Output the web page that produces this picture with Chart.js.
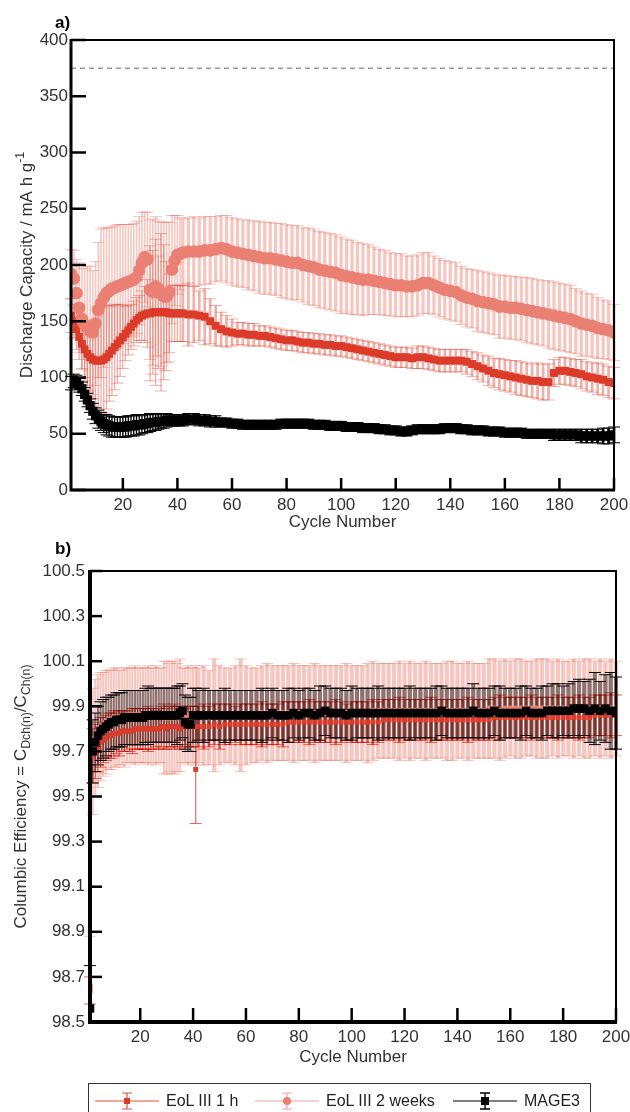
<!DOCTYPE html>
<html>
<head>
<meta charset="utf-8">
<script src="https://cdn.jsdelivr.net/npm/chart.js@4.4.1/dist/chart.umd.min.js"></script>
<style>
  body { margin: 0; background: #fff; width: 630px; height: 1112px; position: relative; overflow: hidden;
         font-family: "Liberation Sans", Arial, sans-serif; }
  canvas { position: absolute; left: 0; }
  #chartA { top: 0; }
  #chartB { top: 535px; }
  #legend { position: absolute; left: 88px; top: 1083px; width: 503px; height: 34px;
            border: 1.5px solid #333; box-sizing: border-box; }
  .item { position: absolute; top: 2px; height: 30px; display: flex; align-items: center;
          font-size: 16px; color: #222; white-space: nowrap; }
  .item svg { margin-right: 7px; }
</style>
</head>
<body>
<canvas id="chartA" width="630" height="540"></canvas>
<canvas id="chartB" width="630" height="540"></canvas>
<div id="legend">
  <div class="item" style="left:6px">
    <svg width="64" height="22"><line x1="0" y1="11" x2="64" y2="11" stroke="#e0503f" stroke-width="1.2"/>
      <path d="M32 3V19M27 3H37M27 19H37" stroke="#e0503f" stroke-width="1.2" fill="none"/>
      <rect x="29" y="8" width="6" height="6" fill="#dc3b2a"/></svg>EoL III 1 h</div>
  <div class="item" style="left:166px">
    <svg width="64" height="22"><line x1="0" y1="11" x2="64" y2="11" stroke="#f0a49a" stroke-width="1.2"/>
      <path d="M32 3V19M27 3H37M27 19H37" stroke="#f0a49a" stroke-width="1.2" fill="none"/>
      <circle cx="32" cy="11" r="4" fill="#ea8073"/></svg>EoL III 2 weeks</div>
  <div class="item" style="left:364px">
    <svg width="64" height="22"><line x1="0" y1="11" x2="64" y2="11" stroke="#000" stroke-width="1.2"/>
      <path d="M32 3V19M27 3H37M27 19H37" stroke="#000" stroke-width="1.4" fill="none"/>
      <rect x="28" y="7" width="8" height="8" fill="#000"/></svg>MAGE3</div>
</div>
<script>
// cycle numbers (every cycle up to 41, then every second cycle)
const cycles = [1,2,3,4,5,6,7,8,9,10,11,12,13,14,15,16,17,18,19,20,21,22,23,24,25,26,27,28,29,30,31,32,33,34,35,36,37,38,39,40,41,
  42,44,46,48,50,52,54,56,58,60,62,64,66,68,70,72,74,76,78,80,82,84,86,88,90,92,94,96,98,100,
  102,104,106,108,110,112,114,116,118,120,122,124,126,128,130,132,134,136,138,140,
  142,144,146,148,150,152,154,156,158,160,162,164,166,168,170,172,174,176,178,180,
  182,184,186,188,190,192,194,196,198,200];

const xTicks = [20,40,60,80,100,120,140,160,180,200];
const yTicksA = [0,50,100,150,200,250,300,350,400];
const yTicksB = [98.5,98.7,98.9,99.1,99.3,99.5,99.7,99.9,100.1,100.3,100.5];
const refCapacity = 375;

// a) discharge capacity, mA h g-1
const cap1h = [155,150,143,136,130,125,121,118,116,115, 115,115,116,118,121,124,127,130,133,136,
  139,142,145,148,151,153,155,156,157,157, 158,158,158,158,158,158,157,157,157,157,157,
  157,156,156,155,154,150,146,143,141,140, 139,139,138,138,137,137,136,135,134,133,
  133,132,131,131,130,130,129,129,128,128, 127,126,125,124,123,122,121,120,119,118,
  118,118,117,118,118,117,116,115,115,115, 115,115,114,112,110,108,106,104,103,102,
  101,100,99,98,97,97,96,96,104,106, 106,105,104,103,101,100,99,98,96,95];
const err1h = [15,15,18,20,22,25,28,30,35,45, 48,50,48,46,42,40,38,35,32,28,
  24,22,20,20,20,20,22,25,30,60, 55,65,50,70,60,45,35,25,25,25,25,
  25,28,25,22,25,20,18,15,14,12, 10,10,10,10,9,9,9,9,9,9,
  9,9,9,9,9,9,9,9,9,9, 9,9,9,9,9,9,9,9,9,9,
  9,9,9,10,10,10,10,10,10,10, 10,10,11,11,12,12,13,13,14,14,
  14,15,15,15,15,16,16,16,12,12, 12,12,12,13,13,13,14,14,14,14];

const cap2w = [192,188,175,162,152,147,144,141,140,148, 160,166,171,175,177,179,180,181,182,183,
  184,185,186,187,189,195,202,207,205,178, 176,181,179,174,172,172,176,196,204,209,210,
  211,212,212,212,213,213,214,215,214,212, 211,210,209,208,207,206,206,205,204,203,
  202,202,200,199,198,196,195,194,193,191, 190,189,188,187,187,186,185,184,183,182,
  182,181,181,182,184,184,182,180,178,177, 176,173,171,170,168,167,166,165,163,163,
  162,162,161,160,159,158,157,156,155,154, 153,152,150,148,147,146,144,143,142,140];
const err2w = [22,25,30,40,45,50,55,58,55,55, 60,66,62,58,56,55,55,55,54,53,
  52,51,50,50,50,48,45,40,42,62, 65,62,60,64,66,66,62,48,40,35,32,
  30,30,31,30,30,30,29,29,30,30, 30,30,31,31,32,32,32,32,33,33,
  33,33,33,34,34,34,34,34,34,34, 33,33,32,32,31,30,29,29,28,28,
  28,27,27,27,27,27,26,26,26,26, 26,26,26,26,27,27,27,27,28,28,
  28,28,28,29,29,29,29,30,30,30, 30,30,29,29,28,28,27,26,26,25];

const capMage = [95,97,96,93,90,85,80,75,70,66, 63,61,59,58,57,56,56,56,56,56,
  56,57,57,57,58,58,58,59,59,60, 60,60,61,61,61,62,62,62,62,62,62,
  62,63,63,62,62,61,61,60,60,59, 59,58,58,58,58,58,58,58,59,59,
  59,59,59,59,58,58,58,57,57,57, 56,56,56,55,55,55,54,54,53,53,
  52,52,53,54,54,54,54,54,55,55, 55,54,54,53,53,53,52,52,52,51,
  51,51,51,50,50,50,50,50,49,49, 49,49,49,48,48,48,48,48,48,49];
const errMage = [6,6,6,6,6,6,6,6,7,7, 8,8,8,9,9,9,9,9,9,9,
  9,9,9,9,9,9,8,8,8,8, 7,7,7,6,6,6,5,5,5,5,5,
  5,5,5,5,5,5,5,4,4,4, 4,4,4,4,4,4,4,4,4,4,
  4,4,4,4,4,4,4,4,4,4, 4,4,4,4,4,4,4,4,4,4,
  4,4,4,4,4,4,4,4,4,4, 4,4,4,4,4,4,4,4,4,4,
  4,4,4,4,4,4,4,4,5,5, 5,5,5,6,6,6,6,7,7,7];

// b) columbic efficiency, %
const ce1h = [98.64,99.68,99.70,99.72,99.74,99.75,99.76,99.77,99.77,99.78,
  99.78,99.78,99.79,99.79,99.79,99.79,99.79,99.80,99.80,99.80,
  99.80,99.80,99.80,99.80,99.80,99.80,99.80,99.81,99.81,99.80,
  99.81,99.81,99.81,99.81,99.80,99.81,99.81,99.81,99.81,99.81,99.62,
  99.81,99.81,99.81,99.82,99.81,99.82,99.82,99.82,99.82,99.82,
  99.82,99.82,99.82,99.82,99.82,99.82,99.82,99.83,99.83,99.83,
  99.83,99.83,99.83,99.83,99.83,99.83,99.83,99.83,99.83,99.83,
  99.83,99.83,99.83,99.83,99.83,99.84,99.84,99.84,99.84,99.84,
  99.84,99.84,99.84,99.84,99.84,99.84,99.84,99.84,99.84,99.84,
  99.84,99.84,99.84,99.84,99.84,99.84,99.85,99.85,99.85,99.85,
  99.85,99.85,99.85,99.85,99.85,99.85,99.85,99.85,99.85,99.85,
  99.85,99.85,99.85,99.85,99.85,99.86,99.86,99.86,99.86,99.86];
const errCe1h = [0.06,0.12,0.12,0.11,0.11,0.10,0.10,0.10,0.10,0.10,
  0.09,0.10,0.09,0.09,0.08,0.09,0.10,0.09,0.09,0.09,
  0.09,0.09,0.10,0.09,0.09,0.08,0.09,0.09,0.10,0.09,
  0.09,0.09,0.10,0.09,0.09,0.09,0.08,0.09,0.09,0.09,0.24,
  0.09,0.10,0.09,0.09,0.10,0.09,0.09,0.08,0.09,0.09,
  0.09,0.09,0.10,0.09,0.09,0.09,0.10,0.09,0.09,0.09,
  0.09,0.10,0.09,0.09,0.09,0.09,0.10,0.09,0.08,0.09,
  0.09,0.09,0.09,0.10,0.09,0.09,0.09,0.09,0.10,0.09,
  0.09,0.09,0.09,0.09,0.10,0.09,0.09,0.09,0.09,0.09,
  0.09,0.10,0.09,0.09,0.09,0.09,0.09,0.10,0.09,0.09,
  0.09,0.09,0.09,0.10,0.09,0.09,0.09,0.09,0.10,0.09,
  0.09,0.09,0.10,0.09,0.09,0.09,0.09,0.09,0.10,0.09];

const ce2w = [98.66,99.70,99.76,99.79,99.81,99.82,99.83,99.84,99.84,99.85,
  99.85,99.85,99.85,99.85,99.86,99.86,99.86,99.86,99.86,99.86,
  99.86,99.86,99.86,99.86,99.86,99.86,99.86,99.86,99.85,99.85,
  99.85,99.85,99.85,99.85,99.86,99.86,99.86,99.86,99.86,99.86,99.86,
  99.86,99.86,99.85,99.86,99.86,99.86,99.86,99.86,99.86,99.86,
  99.86,99.86,99.87,99.87,99.87,99.87,99.87,99.87,99.87,99.87,
  99.87,99.87,99.87,99.87,99.87,99.87,99.87,99.87,99.87,99.87,
  99.87,99.87,99.87,99.88,99.88,99.88,99.88,99.88,99.88,99.88,
  99.88,99.88,99.88,99.88,99.88,99.88,99.88,99.88,99.88,99.88,
  99.88,99.88,99.88,99.88,99.88,99.89,99.89,99.88,99.89,99.89,
  99.89,99.89,99.89,99.89,99.89,99.89,99.89,99.89,99.89,99.89,
  99.89,99.89,99.89,99.89,99.89,99.89,99.89,99.89,99.89,99.89];
const errCe2w = [0.22,0.28,0.26,0.25,0.24,0.23,0.23,0.22,0.22,0.22,
  0.22,0.21,0.21,0.22,0.21,0.21,0.21,0.22,0.21,0.21,
  0.21,0.21,0.22,0.21,0.21,0.22,0.21,0.21,0.25,0.25,
  0.24,0.25,0.25,0.24,0.25,0.21,0.21,0.22,0.21,0.21,0.22,
  0.21,0.22,0.21,0.25,0.22,0.21,0.21,0.22,0.25,0.22,
  0.21,0.21,0.21,0.22,0.21,0.21,0.21,0.21,0.22,0.21,
  0.21,0.21,0.22,0.21,0.21,0.21,0.21,0.21,0.22,0.21,
  0.21,0.21,0.22,0.22,0.21,0.21,0.21,0.21,0.22,0.21,
  0.22,0.21,0.21,0.22,0.21,0.21,0.21,0.22,0.22,0.21,
  0.21,0.22,0.21,0.21,0.21,0.22,0.22,0.22,0.22,0.21,
  0.22,0.22,0.21,0.21,0.22,0.22,0.22,0.21,0.22,0.21,
  0.21,0.22,0.21,0.22,0.22,0.21,0.22,0.21,0.22,0.21];

const ceMage = [98.56,99.70,99.74,99.77,99.79,99.80,99.81,99.82,99.83,99.83,
  99.84,99.84,99.84,99.85,99.85,99.85,99.85,99.85,99.85,99.85,
  99.85,99.86,99.86,99.86,99.86,99.86,99.86,99.86,99.86,99.86,
  99.86,99.86,99.86,99.86,99.87,99.88,99.83,99.82,99.82,99.86,99.86,
  99.86,99.86,99.86,99.86,99.86,99.86,99.86,99.86,99.86,99.86,
  99.86,99.86,99.86,99.86,99.87,99.86,99.86,99.86,99.87,99.86,
  99.87,99.87,99.86,99.87,99.88,99.87,99.87,99.87,99.86,99.87,
  99.87,99.87,99.87,99.87,99.87,99.87,99.87,99.87,99.87,99.87,
  99.87,99.87,99.87,99.87,99.87,99.87,99.88,99.87,99.87,99.87,
  99.87,99.87,99.88,99.87,99.87,99.87,99.88,99.87,99.87,99.87,
  99.87,99.87,99.88,99.87,99.87,99.87,99.88,99.88,99.88,99.88,
  99.88,99.89,99.89,99.89,99.88,99.89,99.88,99.89,99.88,99.87];
const errCeMage = [0.19,0.14,0.13,0.13,0.13,0.13,0.13,0.12,0.12,0.12,
  0.12,0.12,0.12,0.12,0.12,0.12,0.12,0.12,0.12,0.12,
  0.12,0.12,0.13,0.12,0.12,0.12,0.12,0.12,0.12,0.12,
  0.12,0.12,0.12,0.13,0.12,0.12,0.12,0.12,0.12,0.12,0.12,
  0.11,0.12,0.11,0.11,0.11,0.12,0.11,0.11,0.11,0.11,
  0.11,0.11,0.12,0.11,0.11,0.11,0.11,0.12,0.11,0.11,
  0.11,0.11,0.11,0.12,0.11,0.11,0.11,0.11,0.11,0.12,
  0.11,0.11,0.11,0.11,0.12,0.11,0.11,0.11,0.11,0.11,
  0.12,0.11,0.11,0.11,0.11,0.12,0.11,0.11,0.11,0.11,
  0.11,0.11,0.12,0.11,0.11,0.11,0.11,0.12,0.11,0.11,
  0.11,0.12,0.11,0.11,0.11,0.12,0.11,0.12,0.12,0.11,
  0.12,0.12,0.13,0.12,0.14,0.16,0.13,0.15,0.17,0.16];

const RED = '#dc3b2a', SALMON = '#ea8073';
const FONT = '"Liberation Sans", Arial, sans-serif';
Chart.defaults.font.family = FONT;
Chart.defaults.font.size = 17;
Chart.defaults.color = '#333';

const pts = arr => cycles.map((c, i) => ({ x: c, y: arr[i] }));

// vertical error bars with caps, drawn under the markers;
// bar width follows the spacing to the neighbouring point (errorFill = share of the gap)
const errorBars = {
  id: 'errorBars',
  beforeDatasetsDraw(chart) {
    const { ctx, chartArea, scales: { x, y } } = chart;
    ctx.save();
    ctx.beginPath();
    ctx.rect(0, chartArea.top, chart.width, chartArea.height);
    ctx.clip();
    chart.data.datasets.forEach(ds => {
      if (!ds.errors) return;
      ctx.globalCompositeOperation = ds.errorBlend || 'source-over';
      ds.data.forEach((p, i) => {
        const e = ds.errors[i];
        const px = x.getPixelForValue(p.x);
        const nb = ds.data[i + 1] || ds.data[i - 1];
        const gap = Math.abs(x.getPixelForValue(nb.x) - px);
        const t = y.getPixelForValue(p.y + e), b = y.getPixelForValue(p.y - e);
        ctx.strokeStyle = ds.errorColor;
        ctx.lineWidth = Math.max(1, gap * ds.errorFill);
        ctx.beginPath();
        ctx.moveTo(px, t); ctx.lineTo(px, b);
        ctx.stroke();
        ctx.strokeStyle = ds.capColor || ds.errorColor;
        ctx.lineWidth = 1;
        ctx.beginPath();
        ctx.moveTo(px - 6, t); ctx.lineTo(px + 6, t);
        ctx.moveTo(px - 6, b); ctx.lineTo(px + 6, b);
        ctx.stroke();
      });
    });
    ctx.restore();
  }
};

function richVertical(ctx, parts, cx, cy, size) {
  ctx.save();
  ctx.translate(cx, cy);
  ctx.rotate(-Math.PI / 2);
  ctx.fillStyle = '#333';
  ctx.textBaseline = 'middle';
  let total = 0;
  parts.forEach(p => {
    ctx.font = (p.s ? size * 0.72 : size) + 'px ' + FONT;
    p.w = ctx.measureText(p.t).width;
    total += p.w;
  });
  let x = -total / 2;
  parts.forEach(p => {
    ctx.font = (p.s ? size * 0.72 : size) + 'px ' + FONT;
    ctx.fillText(p.t, x, p.s > 0 ? size * 0.32 : (p.s < 0 ? -size * 0.4 : 0));
    x += p.w;
  });
  ctx.restore();
}

// frame with inward ticks, axis titles and panel label
const frame = {
  id: 'frame',
  afterDatasetsDraw(chart, args, o) {
    const { ctx, chartArea: a, scales: { x, y } } = chart;
    ctx.save();
    ctx.strokeStyle = '#000';
    ctx.lineWidth = 2.5;
    o.yTicks.forEach(v => {
      const py = y.getPixelForValue(v);
      ctx.beginPath(); ctx.moveTo(a.left, py); ctx.lineTo(a.left + o.yLen, py); ctx.stroke();
    });
    xTicks.forEach(v => {
      const px = x.getPixelForValue(v);
      ctx.beginPath(); ctx.moveTo(px, a.bottom); ctx.lineTo(px, a.bottom - o.xLen); ctx.stroke();
    });
    ctx.lineWidth = 2;
    ctx.beginPath();
    ctx.moveTo(a.left, a.top); ctx.lineTo(a.right, a.top); ctx.lineTo(a.right, a.bottom);
    ctx.stroke();
    ctx.lineWidth = o.axisWidth;
    ctx.beginPath();
    ctx.moveTo(a.left, a.top - 1); ctx.lineTo(a.left, a.bottom); ctx.lineTo(a.right + 1, a.bottom);
    ctx.stroke();
    ctx.fillStyle = '#333';
    ctx.font = '17px ' + FONT;
    ctx.textAlign = 'center';
    ctx.textBaseline = 'middle';
    ctx.fillText('Cycle Number', (a.left + a.right) / 2, 522);
    ctx.fillStyle = '#000';
    ctx.font = 'bold 17px ' + FONT;
    ctx.textAlign = 'left';
    ctx.fillText(o.panel, 55, o.panelY);
    richVertical(ctx, o.title, o.titleX, (a.top + a.bottom) / 2, 17);
    ctx.restore();
  }
};

function scalesFor(yMin, yMax, yTicks, yWidth, xHeight, pad, dec) {
  return {
    x: {
      type: 'linear', min: 1, max: 200,
      grid: { display: false, drawTicks: false }, border: { display: false },
      ticks: { padding: 5, color: '#333' },
      afterBuildTicks: s => { s.ticks = xTicks.map(v => ({ value: v })); },
      afterFit: s => { s.height = xHeight; s.paddingLeft = 0; s.paddingRight = 0; }
    },
    y: {
      min: yMin, max: yMax,
      grid: { display: false, drawTicks: false }, border: { display: false },
      ticks: { padding: pad, color: '#333', callback: v => v.toFixed(dec) },
      afterBuildTicks: s => { s.ticks = yTicks.map(v => ({ value: v })); },
      afterFit: s => { s.width = yWidth; }
    }
  };
}

new Chart(document.getElementById('chartA'), {
  type: 'scatter',
  data: {
    datasets: [
      { label: 'EoL III 2 weeks', data: pts(cap2w), errors: err2w, errorColor: 'rgba(234,128,115,0.45)', errorFill: 0.6,
        pointStyle: 'circle', pointRadius: 6.3, backgroundColor: SALMON, borderWidth: 0, order: 1 },
      { label: 'EoL III 1 h', data: pts(cap1h), errors: err1h, errorColor: 'rgba(225,80,65,0.45)', errorFill: 0.5,
        pointStyle: 'rect', pointRadius: 5.6, backgroundColor: RED, borderWidth: 0, order: 2 },
      { label: 'MAGE3', data: pts(capMage), errors: errMage, errorColor: '#000', errorFill: 0.5,
        pointStyle: 'rect', pointRadius: 6.5, backgroundColor: '#000', borderWidth: 0, order: 0 },
      { label: 'ref', data: [{ x: 1, y: refCapacity }, { x: 200, y: refCapacity }], showLine: true,
        borderColor: '#9a9a9a', borderWidth: 1.5, borderDash: [5, 4], pointRadius: 0, order: 3 }
    ]
  },
  options: {
    responsive: false, animation: false, devicePixelRatio: 1,
    layout: { padding: { top: 40, right: 16, left: 0, bottom: 0 } },
    scales: scalesFor(0, 400, yTicksA, 71, 50, 3, 0),
    plugins: {
      legend: { display: false }, tooltip: { enabled: false },
      frame: { yTicks: yTicksA, yLen: 15, xLen: 12, axisWidth: 3, panel: 'a)', panelY: 23, titleX: 27,
        title: [{ t: 'Discharge Capacity / mA h g' }, { t: '-1', s: -1 }] }
    }
  },
  plugins: [errorBars, frame]
});

new Chart(document.getElementById('chartB'), {
  type: 'scatter',
  data: {
    datasets: [
      { label: 'EoL III 2 weeks', data: pts(ce2w), errors: errCe2w, errorColor: 'rgba(234,128,115,0.45)', errorFill: 0.8,
        pointStyle: 'circle', pointRadius: 3, backgroundColor: SALMON, borderWidth: 0, order: 2 },
      { label: 'MAGE3', data: pts(ceMage), errors: errCeMage, errorColor: 'rgba(0,0,0,0.42)', capColor: '#000', errorFill: 0.8,
        pointStyle: 'rect', pointRadius: 6, backgroundColor: '#000', borderWidth: 0, order: 0 },
      { label: 'EoL III 1 h', data: pts(ce1h), errors: errCe1h, errorColor: 'rgba(228,85,70,0.9)', errorBlend: 'multiply', errorFill: 0.45,
        pointStyle: 'rect', pointRadius: 3.5, backgroundColor: RED, borderWidth: 0, order: 1 }
    ]
  },
  options: {
    responsive: false, animation: false, devicePixelRatio: 1,
    layout: { padding: { top: 36, right: 14, left: 0, bottom: 0 } },
    scales: scalesFor(98.5, 100.5, yTicksB, 90, 53, 5, 1),
    plugins: {
      legend: { display: false }, tooltip: { enabled: false },
      frame: { yTicks: yTicksB, yLen: 12, xLen: 14, axisWidth: 4, panel: 'b)', panelY: 14, titleX: 21,
        title: [{ t: 'Columbic Efficiency = C' }, { t: 'Dch(n)', s: 1 }, { t: '/C' }, { t: 'Ch(n)', s: 1 }] }
    }
  },
  plugins: [errorBars, frame]
});
</script>
</body>
</html>
